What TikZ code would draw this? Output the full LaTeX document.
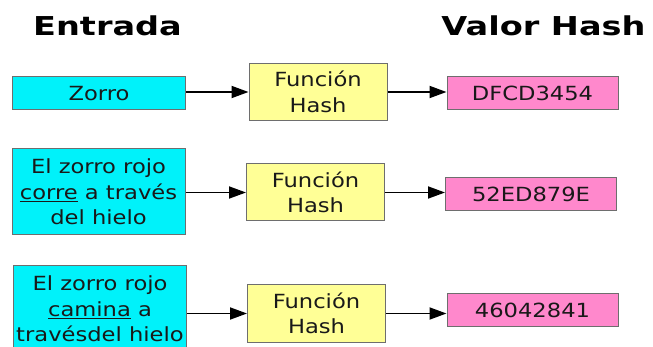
\documentclass[tikz,border=0pt]{standalone}
\usepackage{fontspec}
\usetikzlibrary{arrows.meta}
\newfontfamily\bodyfont[FakeStretch=1.16]{DejaVu Sans}
\newfontfamily\titlefont[FakeStretch=1.29]{DejaVu Sans Bold}
\definecolor{incyan}{RGB}{0,242,250}
\definecolor{fnyellow}{RGB}{255,255,150}
\definecolor{hashpink}{RGB}{255,136,204}
\definecolor{txt}{RGB}{25,25,25}
\tikzset{
  box/.style={draw={rgb,255:red,110;green,110;blue,110}, line width=1pt, inner sep=0pt, align=center,
    text=txt, font=\bodyfont\fontsize{19.5}{25.5}\selectfont},
  inbox/.style={box, fill=incyan, minimum width=173pt},
  fnbox/.style={box, fill=fnyellow, minimum width=138pt, minimum height=57pt},
  hashbox/.style={box, fill=hashpink, minimum width=171pt, minimum height=33pt},
  title/.style={inner sep=0pt, anchor=base, text=black, font=\titlefont\fontsize{26}{30}\selectfont},
  conn/.style={line width=1.8pt, -{Triangle[length=17pt,width=12pt]}}
}
\begin{document}
\begin{tikzpicture}[x=1pt,y=-1pt]
\useasboundingbox[fill=white] (0,0) rectangle (653,347);
\node[title] (t1) at (107.5,36) {Entrada};
\node[title] (t2) at (543.5,36) {Valor Hash};

% row 1
\node[inbox, minimum height=33pt] (a1) at (99,93.5) {Zorro};
\node[fnbox] (b1) at (318,92) {Función\\Hash};
\node[hashbox] (c1) at (532.5,93.5) {DFCD3454};
% row 2
\node[inbox, minimum height=86pt] (a2) at (98.5,192) {El zorro rojo\\\underline{corre} a través\\del hielo};
\node[fnbox] (b2) at (315.5,192.5) {Función\\Hash};
\node[hashbox] (c2) at (531,194.5) {52ED879E};
% row 3
\node[inbox, minimum height=86pt] (a3) at (100,309) {El zorro rojo\\\underline{camina} a\\travésdel hielo};
\node[fnbox] (b3) at (316.5,313.5) {Función\\Hash};
\node[hashbox] (c3) at (532.5,310) {46042841};

\foreach \i in {1,2,3}{
  \draw[conn] (b\i.west -| a\i.east) -- (b\i.west);
  \draw[conn] (b\i.east) -- (b\i.east -| c\i.west);
}
\end{tikzpicture}
\end{document}
